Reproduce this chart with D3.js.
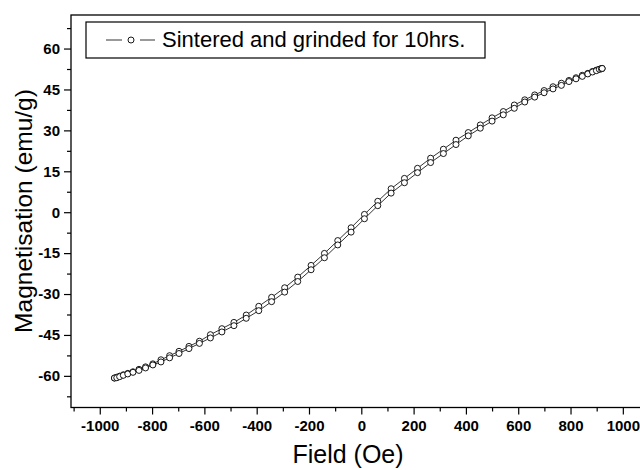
<!DOCTYPE html>
<html>
<head>
<meta charset="utf-8">
<script src="https://cdn.jsdelivr.net/npm/d3@7"></script>
<style>
  body { margin: 0; background: #fff; }
  text { font-family: "Liberation Sans", Arial, sans-serif; fill: #000; }
</style>
</head>
<body>
<div class="canva"></div>
<script>
// field values (Oe), same steps used on both branches
const field = [-944, -935, -924, -910, -893, -873, -850, -825, -797, -766, -733, -697, -659, -619,
  -577, -533, -487, -440, -392, -343, -293, -243, -192, -141, -90, -39, 12, 63, 114, 165, 215,
  265, 314, 362, 409, 455, 500, 543, 585, 625, 663, 699, 733, 765, 794, 821, 845, 866, 884, 899,
  910, 918, 921];

// branch coming down from +H (upper one)
const magDown = [-60.8, -60.5, -60.1, -59.6, -59.1, -58.5, -57.6, -56.7, -55.6, -54.1, -52.6, -51.0,
  -49.2, -47.3, -44.9, -42.7, -40.4, -37.7, -34.5, -31.2, -27.7, -23.8, -19.5, -15.1, -10.4, -5.7,
  -0.8, 4.0, 8.6, 12.4, 16.1, 19.8, 23.1, 26.4, 29.2, 32.0, 34.6, 36.9, 39.3, 41.2, 43.0, 44.6, 46.0,
  47.3, 48.3, 49.3, 50.2, 50.9, 51.6, 52.1, 52.4, 52.6, 52.7];

// branch going up from -H (lower one)
const magUp = [-60.8, -60.7, -60.3, -59.8, -59.3, -58.7, -58.0, -57.1, -56.0, -54.9, -53.4, -51.8,
  -50.0, -48.1, -46.1, -43.9, -41.6, -38.9, -36.1, -32.8, -29.3, -25.4, -21.1, -16.7, -12.0, -7.3,
  -2.4, 2.4, 7.0, 10.8, 14.5, 18.2, 21.5, 24.8, 28.0, 30.8, 33.4, 35.7, 38.1, 40.4, 42.2, 43.8, 45.2,
  46.5, 47.9, 48.9, 49.8, 50.7, 51.4, 51.9, 52.4, 52.6, 52.7];

const xTicks = [-1000, -800, -600, -400, -200, 0, 200, 400, 600, 800, 1000];
const yTicks = [-60, -45, -30, -15, 0, 15, 30, 45, 60];
const seriesName = "Sintered and grinded for 10hrs.";

const canvas = d3.select(".canva");
const svg = canvas.append("svg")
  .attr("width", 640)
  .attr("height", 470);

const plot = {left: 71, right: 651.6, top: 15, bottom: 407.5};

const x = d3.scaleLinear().domain([-1110, 1110]).range([plot.left, plot.right]);
const y = d3.scaleLinear().domain([-71.6, 72.3]).range([plot.bottom, plot.top]);

// frame (right side falls off the page like in the scan)
svg.append("rect")
  .attr("x", plot.left).attr("y", plot.top)
  .attr("width", plot.right - plot.left).attr("height", plot.bottom - plot.top)
  .attr("fill", "none").attr("stroke", "#000").attr("stroke-width", 1.3);

// minor ticks
const xMinor = d3.range(-1100, 1101, 100).filter(v => v % 200 !== 0);
const yMinor = d3.range(-67.5, 68, 15);

svg.append("g")
  .attr("transform", `translate(0,${plot.bottom})`)
  .call(d3.axisBottom(x).tickValues(xMinor).tickSize(4).tickFormat(""))
  .call(g => g.select(".domain").remove());

svg.append("g")
  .attr("transform", `translate(${plot.left},0)`)
  .call(d3.axisLeft(y).tickValues(yMinor).tickSize(4).tickFormat(""))
  .call(g => g.select(".domain").remove());

// major ticks + labels (plain hyphen for minus, like the original)
const xAxis = svg.append("g")
  .attr("transform", `translate(0,${plot.bottom})`)
  .call(d3.axisBottom(x).tickValues(xTicks).tickSize(7).tickPadding(6).tickFormat(d => String(d)));
xAxis.select(".domain").remove();

const yAxis = svg.append("g")
  .attr("transform", `translate(${plot.left},0)`)
  .call(d3.axisLeft(y).tickValues(yTicks).tickSize(7).tickPadding(4).tickFormat(d => String(d)));
yAxis.select(".domain").remove();

svg.selectAll(".tick line").attr("stroke", "#000").attr("stroke-width", 1.2);
svg.selectAll(".tick text")
  .attr("font-size", 15)
  .attr("font-weight", "bold")
  .attr("font-family", "'Liberation Sans', Arial, sans-serif")
  .attr("fill", "#000");

// axis titles
svg.append("text")
  .attr("x", 348).attr("y", 463)
  .attr("text-anchor", "middle")
  .attr("font-size", 25)
  .text("Field (Oe)");

svg.append("text")
  .attr("transform", "translate(32,211) rotate(-90)")
  .attr("text-anchor", "middle")
  .attr("font-size", 24.5)
  .text("Magnetisation (emu/g)");

// loop: down branch first, then back up
const pts = [];
for (let i = field.length - 1; i >= 0; i--) pts.push([field[i], magDown[i]]);
for (let i = 0; i < field.length; i++) pts.push([field[i], magUp[i]]);

const line = d3.line()
  .x(d => x(d[0]))
  .y(d => y(d[1]));

svg.append("path")
  .datum(pts)
  .attr("d", line)
  .attr("fill", "none")
  .attr("stroke", "#000")
  .attr("stroke-width", 0.8);

svg.append("g").selectAll("circle")
  .data(pts)
  .enter()
  .append("circle")
  .attr("cx", d => x(d[0]))
  .attr("cy", d => y(d[1]))
  .attr("r", 3)
  .attr("fill", "#fff")
  .attr("stroke", "#000")
  .attr("stroke-width", 0.9);

// legend
const legend = svg.append("g");
legend.append("rect")
  .attr("x", 86).attr("y", 22)
  .attr("width", 399).attr("height", 36)
  .attr("fill", "#fff").attr("stroke", "#000").attr("stroke-width", 1.2);
legend.selectAll("line")
  .data([[106, 122], [140, 155]])
  .enter()
  .append("line")
  .attr("x1", d => d[0]).attr("x2", d => d[1])
  .attr("y1", 40).attr("y2", 40)
  .attr("stroke", "#000").attr("stroke-width", 0.8);
legend.append("circle")
  .attr("cx", 131).attr("cy", 40).attr("r", 3)
  .attr("fill", "#fff").attr("stroke", "#000").attr("stroke-width", 0.9);
legend.append("text")
  .attr("x", 162).attr("y", 47)
  .attr("font-size", 22)
  .text(seriesName);
</script>
</body>
</html>
